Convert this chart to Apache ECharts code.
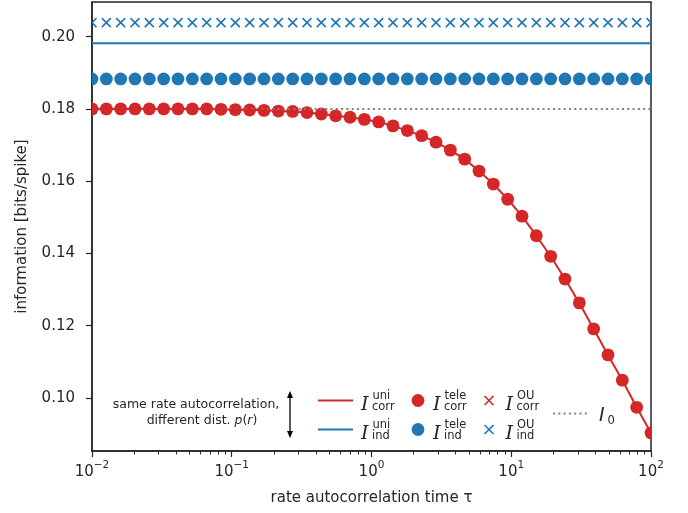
<!DOCTYPE html>
<html>
<head>
<meta charset="utf-8">
<script src="https://cdn.jsdelivr.net/npm/echarts@6/dist/echarts.min.js"></script>
<style>
  html, body { margin: 0; padding: 0; background: #fff; }
  #chart { width: 688px; height: 513px; }
</style>
</head>
<body>
<div id="chart"></div>
<script>
// rate autocorrelation times (40 log-spaced points, 1e-2 .. 1e2)
const taus = [
  0.01, 0.012664, 0.016037, 0.020309, 0.025719, 0.032570, 0.041246, 0.052233,
  0.066147, 0.083768, 0.10608, 0.13434, 0.17013, 0.21544, 0.27283, 0.34551,
  0.43755, 0.55410, 0.70170, 0.88862, 1.1253, 1.4251, 1.8047, 2.2855,
  2.8943, 3.6652, 4.6416, 5.8780, 7.4438, 9.4267, 11.938, 15.118,
  19.145, 24.245, 30.703, 38.882, 49.239, 62.355, 78.965, 100
]

// correlated case (uni line, tele dots and OU crosses coincide)
const corrInfo = [
  0.1800, 0.1800, 0.1800, 0.1800, 0.1800, 0.1800, 0.1800, 0.1800,
  0.1800, 0.1799, 0.1798, 0.1797, 0.1796, 0.1794, 0.1793, 0.1790,
  0.1786, 0.1781, 0.1777, 0.1771, 0.1764, 0.1753, 0.1740, 0.1726,
  0.1708, 0.1686, 0.1661, 0.1628, 0.1592, 0.1550, 0.1503, 0.1449,
  0.1392, 0.1329, 0.1263, 0.1191, 0.1119, 0.1049, 0.0974, 0.0903
]

// independent case, flat in tau
const indUni = [0.1982, 0.1982]
const indTele = [
  0.1883, 0.1883, 0.1883, 0.1883, 0.1883, 0.1883, 0.1883, 0.1883,
  0.1883, 0.1883, 0.1883, 0.1883, 0.1883, 0.1883, 0.1883, 0.1883,
  0.1883, 0.1883, 0.1883, 0.1883, 0.1883, 0.1883, 0.1883, 0.1883,
  0.1883, 0.1883, 0.1883, 0.1883, 0.1883, 0.1883, 0.1883, 0.1883,
  0.1883, 0.1883, 0.1883, 0.1883, 0.1883, 0.1883, 0.1883, 0.1883
]
const indOU = [
  0.2039, 0.2039, 0.2039, 0.2039, 0.2039, 0.2039, 0.2039, 0.2039,
  0.2039, 0.2039, 0.2039, 0.2039, 0.2039, 0.2039, 0.2039, 0.2039,
  0.2039, 0.2039, 0.2039, 0.2039, 0.2039, 0.2039, 0.2039, 0.2039,
  0.2039, 0.2039, 0.2039, 0.2039, 0.2039, 0.2039, 0.2039, 0.2039,
  0.2039, 0.2039, 0.2039, 0.2039, 0.2039, 0.2039, 0.2039, 0.2039
]
const infoZero = [0.1800, 0.1800]
const tauEnds = [0.01, 100]

const xMajorTicks = [0.01, 0.1, 1, 10, 100]
const xMinorTicks = [
  0.02, 0.03, 0.04, 0.05, 0.06, 0.07, 0.08, 0.09,
  0.2, 0.3, 0.4, 0.5, 0.6, 0.7, 0.8, 0.9,
  2, 3, 4, 5, 6, 7, 8, 9,
  20, 30, 40, 50, 60, 70, 80, 90
]
const yTicks = [0.10, 0.12, 0.14, 0.16, 0.18, 0.20]

const red = '#d62728'
const blue = '#1f77b4'
const gray = '#7f7f7f'
const ink = '#262626'
const font = 'DejaVu Sans'

const pairs = (xs, ys) => xs.map((x, i) => [x, ys[i]])

const chart = echarts.init(document.getElementById('chart'))

// marks drawn as custom series so they get clipped at the frame like the original
function dotSeries(name, ys, color) {
  return {
    name: name,
    type: 'custom',
    clip: true,
    data: pairs(taus, ys),
    encode: { x: 0, y: 1 },
    renderItem: (params, api) => {
      const p = api.coord([api.value(0), api.value(1)])
      return { type: 'circle', shape: { cx: p[0], cy: p[1], r: 6.4 }, style: { fill: color } }
    }
  }
}

function crossSeries(name, ys, color) {
  return {
    name: name,
    type: 'custom',
    clip: true,
    data: pairs(taus, ys),
    encode: { x: 0, y: 1 },
    renderItem: (params, api) => {
      const p = api.coord([api.value(0), api.value(1)])
      const h = 4.5
      return {
        type: 'group',
        children: [
          { type: 'line', shape: { x1: p[0] - h, y1: p[1] - h, x2: p[0] + h, y2: p[1] + h }, style: { stroke: color, lineWidth: 1.6 } },
          { type: 'line', shape: { x1: p[0] + h, y1: p[1] - h, x2: p[0] - h, y2: p[1] + h }, style: { stroke: color, lineWidth: 1.6 } }
        ]
      }
    }
  }
}

// legend label: italic I with stacked super/subscript (y given as text middle)
function mathLabel(x, row, sup, sub) {
  return [
    { type: 'text', x: x, y: row + 4.4, style: { text: 'I', font: 'italic 19px "DejaVu Serif"', fill: ink, align: 'left', verticalAlign: 'middle' } },
    { type: 'text', x: x + 11.5, y: row - 4, style: { text: sup, font: '11.5px ' + font, fill: ink, align: 'left', verticalAlign: 'middle' } },
    { type: 'text', x: x + 11, y: row + 7, style: { text: sub, font: '11.5px ' + font, fill: ink, align: 'left', verticalAlign: 'middle' } }
  ]
}

function cross(cx, cy, color) {
  return [
    { type: 'line', shape: { x1: cx - 4.5, y1: cy - 4.5, x2: cx + 4.5, y2: cy + 4.5 }, style: { stroke: color, lineWidth: 1.6 } },
    { type: 'line', shape: { x1: cx + 4.5, y1: cy - 4.5, x2: cx - 4.5, y2: cy + 4.5 }, style: { stroke: color, lineWidth: 1.6 } }
  ]
}

const row1 = 400.5
const row2 = 429.5

const legendGraphics = [].concat(
  [
    { type: 'text', x: 196, y: 405, style: { text: 'same rate autocorrelation,', font: '12.5px ' + font, fill: ink, align: 'center', verticalAlign: 'middle' } },
    {
      type: 'text', x: 202, y: 421, style: {
        text: 'different dist. {it|p}({it|r})', font: '12.5px ' + font, fill: ink, align: 'center', verticalAlign: 'middle',
        rich: { it: { fontStyle: 'italic', fontSize: 12.5, fontFamily: font } }
      }
    },
    { type: 'line', shape: { x1: 290, y1: 395, x2: 290, y2: 434 }, style: { stroke: '#000', lineWidth: 1.3 } },
    { type: 'polygon', shape: { points: [[290, 391], [287, 398], [293, 398]] }, style: { fill: '#000' } },
    { type: 'polygon', shape: { points: [[290, 438], [287, 431], [293, 431]] }, style: { fill: '#000' } },
    { type: 'line', shape: { x1: 318, y1: row1, x2: 353, y2: row1 }, style: { stroke: red, lineWidth: 2 } },
    { type: 'line', shape: { x1: 318, y1: row2, x2: 353, y2: row2 }, style: { stroke: blue, lineWidth: 2 } },
    { type: 'circle', shape: { cx: 418, cy: row1, r: 6.4 }, style: { fill: red } },
    { type: 'circle', shape: { cx: 418, cy: row2, r: 6.4 }, style: { fill: blue } },
    { type: 'line', shape: { x1: 553, y1: 413.5, x2: 588, y2: 413.5 }, style: { stroke: gray, lineWidth: 2, lineDash: [2, 3.3] } },
    { type: 'text', x: 599, y: 416.4, style: { text: 'I', font: 'italic 19px ' + font, fill: ink, align: 'left', verticalAlign: 'middle' } },
    { type: 'text', x: 607.5, y: 421, style: { text: '0', font: '11.5px ' + font, fill: ink, align: 'left', verticalAlign: 'middle' } }
  ],
  cross(489, row1, red),
  cross(489, row2, blue),
  mathLabel(361, row1, 'uni', 'corr'),
  mathLabel(361, row2, 'uni', 'ind'),
  mathLabel(433, row1, 'tele', 'corr'),
  mathLabel(433, row2, 'tele', 'ind'),
  mathLabel(505.5, row1, 'OU', 'corr'),
  mathLabel(505.5, row2, 'OU', 'ind')
)

chart.setOption({
  animation: false,
  backgroundColor: '#fff',
  textStyle: { fontFamily: font, color: ink },
  grid: {
    left: 92,
    right: 37,
    top: 2,
    bottom: 62,
    show: true,
    borderColor: ink,
    borderWidth: 1.5
  },
  xAxis: [{
    type: 'log',
    min: 0.01,
    max: 100,
    logBase: 10,
    name: 'rate autocorrelation time τ',
    nameLocation: 'middle',
    nameGap: 40,
    nameTextStyle: { fontSize: 15, color: ink, fontFamily: font },
    axisLine: { lineStyle: { color: ink, width: 1.5 } },
    axisTick: { length: 6, lineStyle: { color: ink, width: 1.2 }, customValues: xMajorTicks },
    axisLabel: {
      margin: 9,
      color: ink,
      customValues: xMajorTicks,
      formatter: (v) => {
        const e = Math.round(Math.log10(v))
        return '{b|10}{s|' + (e < 0 ? '−' + (-e) : e) + '}'
      },
      rich: {
        b: { fontSize: 15, fontFamily: font, color: ink, verticalAlign: 'bottom', lineHeight: 20 },
        s: { fontSize: 10.5, fontFamily: font, color: ink, verticalAlign: 'top', lineHeight: 20 }
      }
    },
    splitLine: { show: false }
  }, {
    type: 'log',
    min: 0.01,
    max: 100,
    logBase: 10,
    position: 'bottom',
    axisLine: { show: false },
    axisTick: { length: 3.5, lineStyle: { color: ink, width: 1 }, customValues: xMinorTicks },
    axisLabel: { show: false },
    splitLine: { show: false }
  }],
  yAxis: {
    type: 'value',
    min: 0.0853,
    max: 0.2096,
    name: 'information [bits/spike]',
    nameLocation: 'middle',
    nameGap: 62,
    nameTextStyle: { fontSize: 15, color: ink, fontFamily: font },
    axisLine: { lineStyle: { color: ink, width: 1.5 } },
    axisTick: { length: 6, lineStyle: { color: ink, width: 1.2 }, customValues: yTicks },
    axisLabel: {
      margin: 17,
      fontSize: 15,
      color: ink,
      customValues: yTicks,
      formatter: (v) => v.toFixed(2)
    },
    splitLine: { show: false }
  },
  series: [
    {
      name: 'I0',
      type: 'line',
      data: pairs(tauEnds, infoZero),
      showSymbol: false,
      lineStyle: { color: gray, width: 2, type: [2, 3.3] },
      silent: true
    },
    {
      name: 'uni ind',
      type: 'line',
      data: pairs(tauEnds, indUni),
      showSymbol: false,
      lineStyle: { color: blue, width: 2 }
    },
    dotSeries('tele ind', indTele, blue),
    crossSeries('OU ind', indOU, blue),
    {
      name: 'uni corr',
      type: 'line',
      data: pairs(taus, corrInfo),
      showSymbol: false,
      lineStyle: { color: red, width: 2 }
    },
    dotSeries('tele corr', corrInfo, red),
    crossSeries('OU corr', corrInfo, red)
  ],
  graphic: legendGraphics
})
</script>
</body>
</html>
